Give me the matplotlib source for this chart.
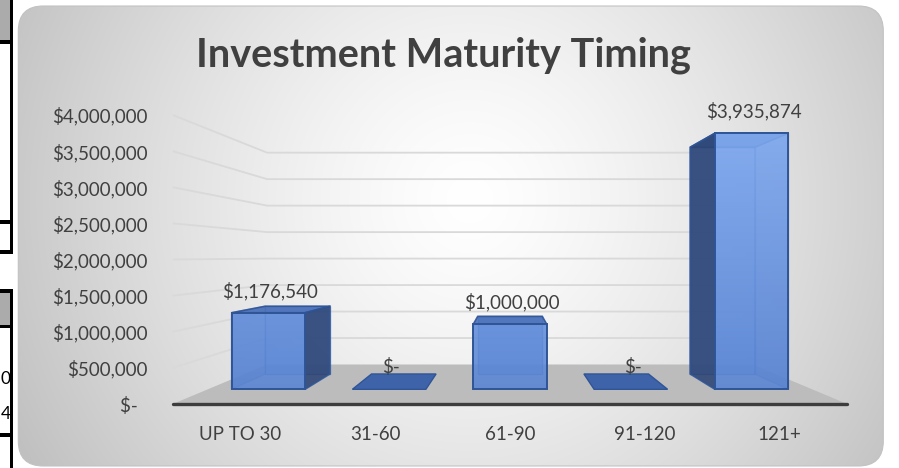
import numpy as np
import matplotlib.pyplot as plt
from matplotlib.patches import Polygon, FancyBboxPatch, Rectangle

# ---------------- data ----------------
categories = ['UP TO 30', '31-60', '61-90', '91-120', '121+']
amounts = [1176540, 0, 1000000, 0, 3935874]
y_ticks = [0, 500000, 1000000, 1500000, 2000000, 2500000, 3000000, 3500000, 4000000]


def money(v):
    # excel accounting style
    if v == 0:
        return '$-  '
    return '${:,.0f}'.format(v)


# ---------------- fake 3d projection (front plane = axes data units) ----------------
RISE = 546700.0      # how far the back of the floor sits above the front, in front units
SHRINK_Y = 0.267     # vertical shrink from front (z=0) to back wall (z=1)
SHRINK_X = 0.28      # horizontal shrink toward the centre
XMID = 2.0
Z0, Z1 = 0.372, 0.76  # bar depth
HALF = 0.304          # bar half width in category units


def proj(c, v, z):
    X = XMID + (c - XMID) * (1 - SHRINK_X * z)
    Y = RISE * z + v * (1 - SHRINK_Y * z)
    return (X, Y)


W, H = 899, 468
fig = plt.figure(figsize=(W / 100, H / 100), dpi=100)
fig.patch.set_facecolor('white')

# ---------------- background (pixel coords, y up) ----------------
bg = fig.add_axes([0, 0, 1, 1])
bg.set_xlim(0, W)
bg.set_ylim(0, H)
bg.axis('off')

xx, yy = np.meshgrid(np.arange(W) + 0.5, np.arange(H) + 0.5)
r = np.hypot(xx - 470, yy - 200)
shade = np.clip(1 - 0.2 * (r / 440.0) ** 1.34, 0, 1)
img = np.dstack([shade, shade, shade])
box = FancyBboxPatch((18.3, 2), 865, 460, boxstyle='round,pad=0,rounding_size=25',
                     facecolor='none', edgecolor='#c2c2c2', lw=0.8, zorder=2)
bg.add_patch(box)
im = bg.imshow(img, extent=(0, W, 0, H), origin='upper', aspect='auto', zorder=1)
im.set_clip_path(box)

# spreadsheet bits poking out on the left
def top_rect(x0, y0, x1, y1, color):
    bg.add_patch(Rectangle((x0, H - y1), x1 - x0, y1 - y0, facecolor=color, edgecolor='none', zorder=3))

top_rect(0, 0, 9.5, 40, '#ababab')
top_rect(0, 292, 9.5, 325, '#ababab')
top_rect(9.5, 0, 13.2, 253, 'black')
top_rect(9.5, 289, 13.2, 468, 'black')
for y0, y1 in [(40, 43.5), (220, 223.5), (250, 253.5), (289, 292.5), (325, 328), (433, 436.5)]:
    top_rect(0, y0, 13.2, y1, 'black')
bg.text(0.5, H - 379, '0', ha='left', va='center', fontsize=12.5, family='Lato', color='black', zorder=4)
bg.text(0.5, H - 414, '4', ha='left', va='center', fontsize=12.5, family='Lato', color='black', zorder=4)

# title
fig.text(443 / W, 1 - 55 / H, 'Investment Maturity Timing', ha='center', va='center',
         fontsize=28.5, fontweight='bold', family='Lato', color='#404040')

# ---------------- chart axes ----------------
ax = fig.add_axes([172.7 / W, (H - 404) / H, 674.6 / W, 289 / H])
ax.patch.set_visible(False)
for s in ax.spines.values():
    s.set_visible(False)

# walls: gridlines on side wall and back wall
for v in y_ticks[1:]:
    p0 = proj(-0.5, v, 0)
    p1 = proj(-0.5, v, 1)
    p2 = proj(len(categories) - 0.5, v, 1)
    ax.plot([p0[0], p1[0], p2[0]], [p0[1], p1[1], p2[1]], color='#d9d9d9', lw=1.3,
            zorder=1, clip_on=False, solid_capstyle='butt')

# floor
n = len(categories)
floor = [proj(-0.5, 0, 0), proj(n - 0.5, 0, 0), proj(n - 0.5, 0, 1), proj(-0.5, 0, 1)]
ax.add_patch(Polygon(floor, closed=True, facecolor='#bcbcbc', edgecolor='none', zorder=2, clip_on=False))
fl = [proj(-0.5, 0, 0), proj(n - 0.5, 0, 0)]
ax.plot([fl[0][0], fl[1][0]], [fl[0][1], fl[1][1]], color='#3d3d3d', lw=2.4, zorder=3,
        clip_on=False, solid_capstyle='round')

# gradient used on the front faces
grad = np.linspace(0, 1, 256)[:, None]
c_lo = np.array([0x56, 0x82, 0xd2]) / 255.0
c_hi = np.array([0x86, 0xb0, 0xf4]) / 255.0
grad_img = c_lo[None, None, :] * (1 - grad[..., None]) + c_hi[None, None, :] * grad[..., None]
grad_img = np.repeat(grad_img, 2, axis=1)

edge = '#2f5597'
zb = 10
for i, v in enumerate(amounts):
    c0, c1 = i - HALF, i + HALF
    FLB, FRB = proj(c0, 0, Z0), proj(c1, 0, Z0)
    BLB, BRB = proj(c0, 0, Z1), proj(c1, 0, Z1)
    if v == 0:
        ax.add_patch(Polygon([FLB, FRB, BRB, BLB], closed=True, facecolor='#3f63a8',
                             edgecolor=edge, lw=1.0, zorder=zb, clip_on=False))
    else:
        FLT, FRT = proj(c0, v, Z0), proj(c1, v, Z0)
        BLT, BRT = proj(c0, v, Z1), proj(c1, v, Z1)
        left = [FLB, BLB, BLT, FLT]
        right = [FRB, BRB, BRT, FRT]
        back = [BLB, BRB, BRT, BLT]
        top = [FLT, FRT, BRT, BLT]
        front = [FLB, FRB, FRT, FLT]
        if i < XMID:
            hidden, shown = left, right
        elif i > XMID:
            hidden, shown = right, left
        else:
            hidden, shown = None, None
        ax.add_patch(Polygon(back, closed=True, facecolor='#5b88d8', alpha=0.55,
                             edgecolor=edge, lw=1.0, zorder=zb, clip_on=False))
        if hidden is not None:
            ax.add_patch(Polygon(hidden, closed=True, facecolor='#4a70b8', alpha=0.4,
                                 edgecolor=edge, lw=1.0, zorder=zb + 1, clip_on=False))
        ax.add_patch(Polygon(top, closed=True, facecolor='#4b70b8', alpha=0.9,
                             edgecolor=edge, lw=1.2, zorder=zb + 2, clip_on=False))
        if shown is not None:
            ax.add_patch(Polygon(shown, closed=True, facecolor='#2c4474', alpha=0.88,
                                 edgecolor=edge, lw=1.2, zorder=zb + 3, clip_on=False))
        fp = Polygon(front, closed=True, facecolor='none', edgecolor=edge, lw=1.4,
                     zorder=zb + 5, clip_on=False)
        ax.add_patch(fp)
        gi = ax.imshow(grad_img, extent=(-0.5, n - 0.5, 0, 4.2e6), origin='lower',
                       aspect='auto', alpha=0.88, zorder=zb + 4, interpolation='bilinear')
        gi.set_clip_path(fp)
    ax.annotate(money(v).strip(), xy=proj(i, v, Z0), xytext=(2, 22), textcoords='offset pixels',
                ha='center', va='center', fontsize=13.5, family='Lato', color='#404040',
                zorder=zb + 10, annotation_clip=False)
    zb += 20

ax.set_xlim(-0.5, n - 0.5)
ax.set_ylim(0, 4e6)
ax.set_yticks(y_ticks)
ax.set_yticklabels([money(v) for v in y_ticks])
ax.set_xticks(range(n))
ax.set_xticklabels(categories)
ax.tick_params(axis='y', length=0, pad=18)
ax.tick_params(axis='x', length=0, pad=16)
for lab in ax.get_yticklabels() + ax.get_xticklabels():
    lab.set_fontfamily('Lato')
    lab.set_fontsize(13.5)
    lab.set_color('#404040')

fig.savefig('out.png', dpi=100)
